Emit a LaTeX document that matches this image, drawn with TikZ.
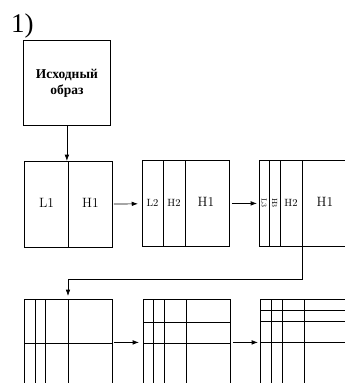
\documentclass[tikz,border=0pt]{standalone}
\usepackage{fontspec}
\usepackage{tikz}
\usetikzlibrary{arrows.meta, positioning, calc}
\newfontfamily\cyrfont{Liberation Serif}

\begin{document}
\begin{tikzpicture}[
  x=1pt, y=-1pt,
  box/.style={rectangle, draw, line width=0.8pt, anchor=north west,
              minimum width=88pt, minimum height=86pt, inner sep=0pt},
  lbl/.style={inner sep=0pt, font=\fontsize{13.5}{13.5}\selectfont},
  slbl/.style={inner sep=0pt, font=\fontsize{10.5}{10.5}\selectfont},
  tlbl/.style={inner sep=0pt, rotate=-90, font=\fontsize{7.5}{7.5}\selectfont},
  arrow/.style={-{Latex[length=2.2mm, width=1.6mm]}, line width=0.7pt},
  split/.style={line width=0.8pt}
]
\useasboundingbox (0,0) rectangle (345,383);
\clip (0,0) rectangle (345,383);

\node[anchor=base west, inner sep=0pt, font=\cyrfont\fontsize{27}{27}\selectfont] (num) at (11,32) {1)};
\node[box, minimum width=87pt, minimum height=85pt, align=center,
      font=\cyrfont\bfseries\fontsize{13.5}{16}\selectfont] (source) at (23,40) {Исходный\\образ};

% first row
\node[box] (lvlone) at (24,161) {};
\node[box, minimum width=87pt] (lvltwo) at (142,160) {};
\node[box] (lvlthree) at (259,160) {};

\draw[split] ([xshift=44pt]lvlone.north west) -- ([xshift=44pt]lvlone.south west);
\foreach \dx in {21,43}
  \draw[split] ([xshift=\dx pt]lvltwo.north west) -- ([xshift=\dx pt]lvltwo.south west);
\foreach \dx in {10,21,43}
  \draw[split] ([xshift=\dx pt]lvlthree.north west) -- ([xshift=\dx pt]lvlthree.south west);

\node[lbl] (lone) at (46.5,202.5) {L1};
\node[lbl] (hone) at (90.5,202.5) {H1};
\node[slbl] (ltwo) at (152.5,203) {L2};
\node[slbl] (htwo) at (174,203) {H2};
\node[lbl] (honeb) at (206,202) {H1};
\node[tlbl] (lthree) at (264,203) {L3};
\node[tlbl] (hthree) at (274.5,203) {H3};
\node[slbl] (htwob) at (291,203) {H2};
\node[lbl] (honec) at (325,202) {H1};

% second row
\node[box] (blkone) at (24,299) {};
\node[box, minimum width=87pt] (blktwo) at (143,299) {};
\node[box] (blkthree) at (260,299) {};

\foreach \dx in {11,21,44}
  \draw[split] ([xshift=\dx pt]blkone.north west) -- ([xshift=\dx pt]blkone.south west);
\foreach \dx in {10,21,43}
  \draw[split] ([xshift=\dx pt]blktwo.north west) -- ([xshift=\dx pt]blktwo.south west);
\foreach \dx in {11,22,44}
  \draw[split] ([xshift=\dx pt]blkthree.north west) -- ([xshift=\dx pt]blkthree.south west);
\foreach \dy in {44}
  \draw[split] ([yshift=-\dy pt]blkone.north west) -- ([yshift=-\dy pt]blkone.north east);
\foreach \dy in {23,44}
  \draw[split] ([yshift=-\dy pt]blktwo.north west) -- ([yshift=-\dy pt]blktwo.north east);
\foreach \dy in {11,22,43}
  \draw[split] ([yshift=-\dy pt]blkthree.north west) -- ([yshift=-\dy pt]blkthree.north east);

% connectors
\draw[arrow] (source.south) -- (source.south |- lvlone.north);
\draw[arrow, shorten <=1pt, shorten >=4pt] (lvlone) -- (lvltwo);
\draw[arrow, shorten <=2pt, shorten >=2pt] (lvltwo) -- (lvlthree);
\draw[arrow, shorten >=3pt] ([xshift=43pt]lvlthree.south west) -- ++(0,33) -| ([xshift=44pt]blkone.north west);
\draw[arrow, shorten <=1pt, shorten >=4pt] (blkone) -- (blktwo);
\draw[arrow, shorten <=2pt, shorten >=2pt] (blktwo) -- (blkthree);
\end{tikzpicture}
\end{document}
